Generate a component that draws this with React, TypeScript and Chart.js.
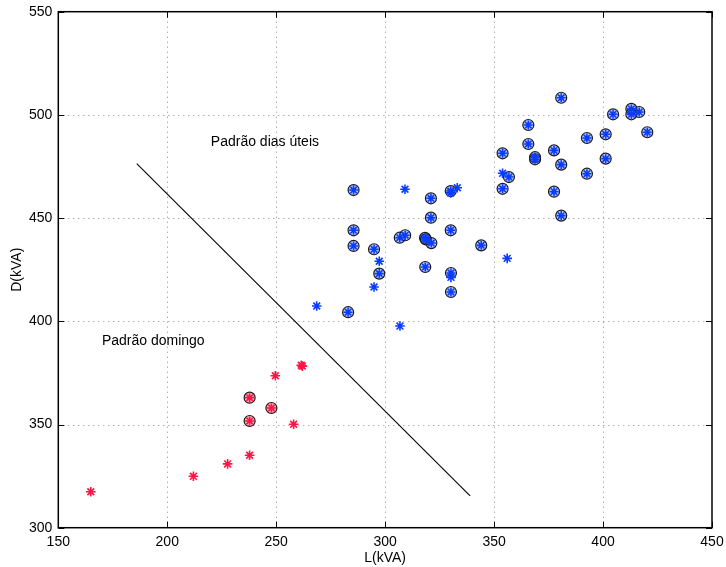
import React, { useEffect, useRef } from "react";
import { Chart, registerables } from "chart.js";

Chart.register(...registerables);

// L(kVA), D(kVA)
const blueCircledX = [285.5, 321, 330.1, 285.5, 285.5, 294.9, 297.3, 283, 321, 306.7, 309.2, 318.3, 318.7, 321.2, 330.1, 344.1, 318.4, 330.2, 330.2, 353.9, 356.8, 353.9, 365.7, 365.7, 368.8, 368.8, 377.5, 380.8, 380.8, 377.5, 380.8, 392.6, 392.6, 401.2, 401.2, 404.6, 413, 413, 416.6, 420.3];
const blueCircledY = [463.6, 459.6, 463.1, 444.1, 436.5, 434.9, 423.1, 404.4, 450.2, 440.5, 441.7, 440.4, 439.7, 437.9, 444.1, 436.8, 426.3, 423.4, 414.2, 481.4, 469.9, 464.2, 495.1, 485.9, 479.5, 478.5, 482.8, 508.3, 475.9, 462.8, 451.2, 488.8, 471.5, 490.6, 478.8, 500.3, 502.9, 500.3, 501.4, 491.6];
const blueStarX = [309.1, 333.1, 330.1, 297.3, 294.9, 268.6, 306.8, 330.2, 353.9, 356];
const blueStarY = [464, 464.7, 462.2, 429.1, 416.6, 407.4, 397.7, 421.3, 471.7, 430.5];
const redStarX = [164.9, 212, 227.7, 237.8, 249.6, 258, 261.5, 262];
const redStarY = [317.4, 324.9, 330.9, 335.1, 373.6, 350.1, 378.7, 378.3];
const redCircledX = [237.8, 237.8, 247.8];
const redCircledY = [351.7, 363, 358];
const lineX = [186, 339];
const lineY = [476.4, 315.4];
const xTicks = [150, 200, 250, 300, 350, 400, 450];
const yTicks = [300, 350, 400, 450, 500, 550];
const labels = [
  { text: "Padrão dias úteis", x: 220, y: 487 },
  { text: "Padrão domingo", x: 170, y: 390.4 },
];

const BLUE = "#0a3cff";
const RED = "#ff1444";
const FONT = "'Liberation Sans', Arial, Helvetica, sans-serif";
const FS = 14;

const zip = (xs: number[], ys: number[]) => xs.map((x, i) => ({ x, y: ys[i] }));

const framePlugin = {
  id: "matlabFrame",
  beforeDatasetsDraw(chart: any) {
    const { ctx, chartArea: a, scales } = chart;
    const xs = scales.x, ys = scales.y;
    ctx.save();
    ctx.strokeStyle = "#8a8a8a";
    ctx.lineWidth = 1;
    ctx.setLineDash([1, 4]);
    xTicks.forEach((t) => {
      const px = Math.round(xs.getPixelForValue(t)) + 0.5;
      if (px <= a.left + 1 || px >= a.right - 1) return;
      ctx.beginPath();
      ctx.moveTo(px, a.top);
      ctx.lineTo(px, a.bottom);
      ctx.stroke();
    });
    yTicks.forEach((t) => {
      const py = Math.round(ys.getPixelForValue(t)) + 0.5;
      if (py <= a.top + 1 || py >= a.bottom - 1) return;
      ctx.beginPath();
      ctx.moveTo(a.left, py);
      ctx.lineTo(a.right, py);
      ctx.stroke();
    });
    ctx.setLineDash([]);
    ctx.strokeStyle = "#000";
    const tl = 6;
    xTicks.forEach((t) => {
      const px = Math.round(xs.getPixelForValue(t)) + 0.5;
      ctx.beginPath();
      ctx.moveTo(px, a.bottom);
      ctx.lineTo(px, a.bottom - tl);
      ctx.moveTo(px, a.top);
      ctx.lineTo(px, a.top + tl);
      ctx.stroke();
    });
    yTicks.forEach((t) => {
      const py = Math.round(ys.getPixelForValue(t)) + 0.5;
      ctx.beginPath();
      ctx.moveTo(a.left, py);
      ctx.lineTo(a.left + tl, py);
      ctx.moveTo(a.right, py);
      ctx.lineTo(a.right - tl, py);
      ctx.stroke();
    });
    ctx.lineWidth = 1.5;
    ctx.strokeRect(a.left, a.top, a.right - a.left, a.bottom - a.top);
    ctx.fillStyle = "#000";
    ctx.font = FS + "px " + FONT;
    ctx.textBaseline = "middle";
    ctx.textAlign = "left";
    labels.forEach((l) => {
      ctx.fillText(l.text, xs.getPixelForValue(l.x), ys.getPixelForValue(l.y));
    });
    ctx.restore();
  },
};

export default function App() {
  const ref = useRef<HTMLCanvasElement | null>(null);
  useEffect(() => {
    if (!ref.current) return;
    const chart = new Chart(ref.current, {
      type: "scatter",
      data: {
        datasets: [
          {
            data: zip(lineX, lineY),
            showLine: true,
            borderColor: "#000",
            borderWidth: 1.1,
            pointRadius: 0,
            order: 9,
          } as any,
          {
            data: zip(blueCircledX, blueCircledY),
            pointStyle: "circle",
            pointRadius: 5.5,
            backgroundColor: "rgba(40,90,255,0.35)",
            borderColor: "#1a1a1a",
            borderWidth: 1.2,
            order: 5,
          },
          {
            data: zip(redCircledX, redCircledY),
            pointStyle: "circle",
            pointRadius: 5.5,
            backgroundColor: "rgba(255,30,70,0.35)",
            borderColor: "#1a1a1a",
            borderWidth: 1.2,
            order: 5,
          },
          {
            data: zip(blueCircledX, blueCircledY),
            pointStyle: "star",
            pointRadius: 4.5,
            borderColor: BLUE,
            backgroundColor: BLUE,
            borderWidth: 1.6,
            order: 2,
          },
          {
            data: zip(redCircledX, redCircledY),
            pointStyle: "star",
            pointRadius: 4.5,
            borderColor: RED,
            backgroundColor: RED,
            borderWidth: 1.6,
            order: 2,
          },
          {
            data: zip(blueStarX, blueStarY),
            pointStyle: "star",
            pointRadius: 4.8,
            borderColor: BLUE,
            backgroundColor: BLUE,
            borderWidth: 1.6,
            order: 1,
          },
          {
            data: zip(redStarX, redStarY),
            pointStyle: "star",
            pointRadius: 4.8,
            borderColor: RED,
            backgroundColor: RED,
            borderWidth: 1.6,
            order: 1,
          },
        ],
      },
      options: {
        animation: false,
        responsive: false,
        events: [],
        layout: { padding: { top: 11.7, right: 14, left: 0, bottom: 0 } },
        plugins: { legend: { display: false }, tooltip: { enabled: false } },
        scales: {
          x: {
            type: "linear",
            min: 150,
            max: 450,
            afterBuildTicks: (s: any) => {
              s.ticks = xTicks.map((v) => ({ value: v }));
            },
            afterFit: (s: any) => {
              s.height = 39.3;
              s.paddingLeft = 0;
              s.paddingRight = 0;
            },
            grid: { display: false, drawTicks: false },
            border: { display: false },
            ticks: { color: "#000", font: { family: FONT, size: FS }, padding: 6, maxRotation: 0 },
            title: {
              display: true,
              text: "L(kVA)",
              color: "#000",
              font: { family: FONT, size: FS },
              padding: { top: 0, bottom: 0 },
            },
          },
          y: {
            type: "linear",
            min: 300,
            max: 550,
            afterBuildTicks: (s: any) => {
              s.ticks = yTicks.map((v) => ({ value: v }));
            },
            afterFit: (s: any) => {
              s.width = 58.3;
              s.paddingTop = 0;
              s.paddingBottom = 0;
            },
            grid: { display: false, drawTicks: false },
            border: { display: false },
            ticks: { color: "#000", font: { family: FONT, size: FS }, padding: 6 },
            title: {
              display: true,
              text: "D(kVA)",
              color: "#000",
              font: { family: FONT, size: FS },
              padding: { top: 9, bottom: 0 },
            },
          },
        },
      },
      plugins: [framePlugin],
    });
    return () => chart.destroy();
  }, []);
  return (
    <div style={{ position: "absolute", left: 0, top: 0, width: 726, height: 567, background: "#fff" }}>
      <canvas ref={ref} width={726} height={567} style={{ display: "block" }} />
    </div>
  );
}
